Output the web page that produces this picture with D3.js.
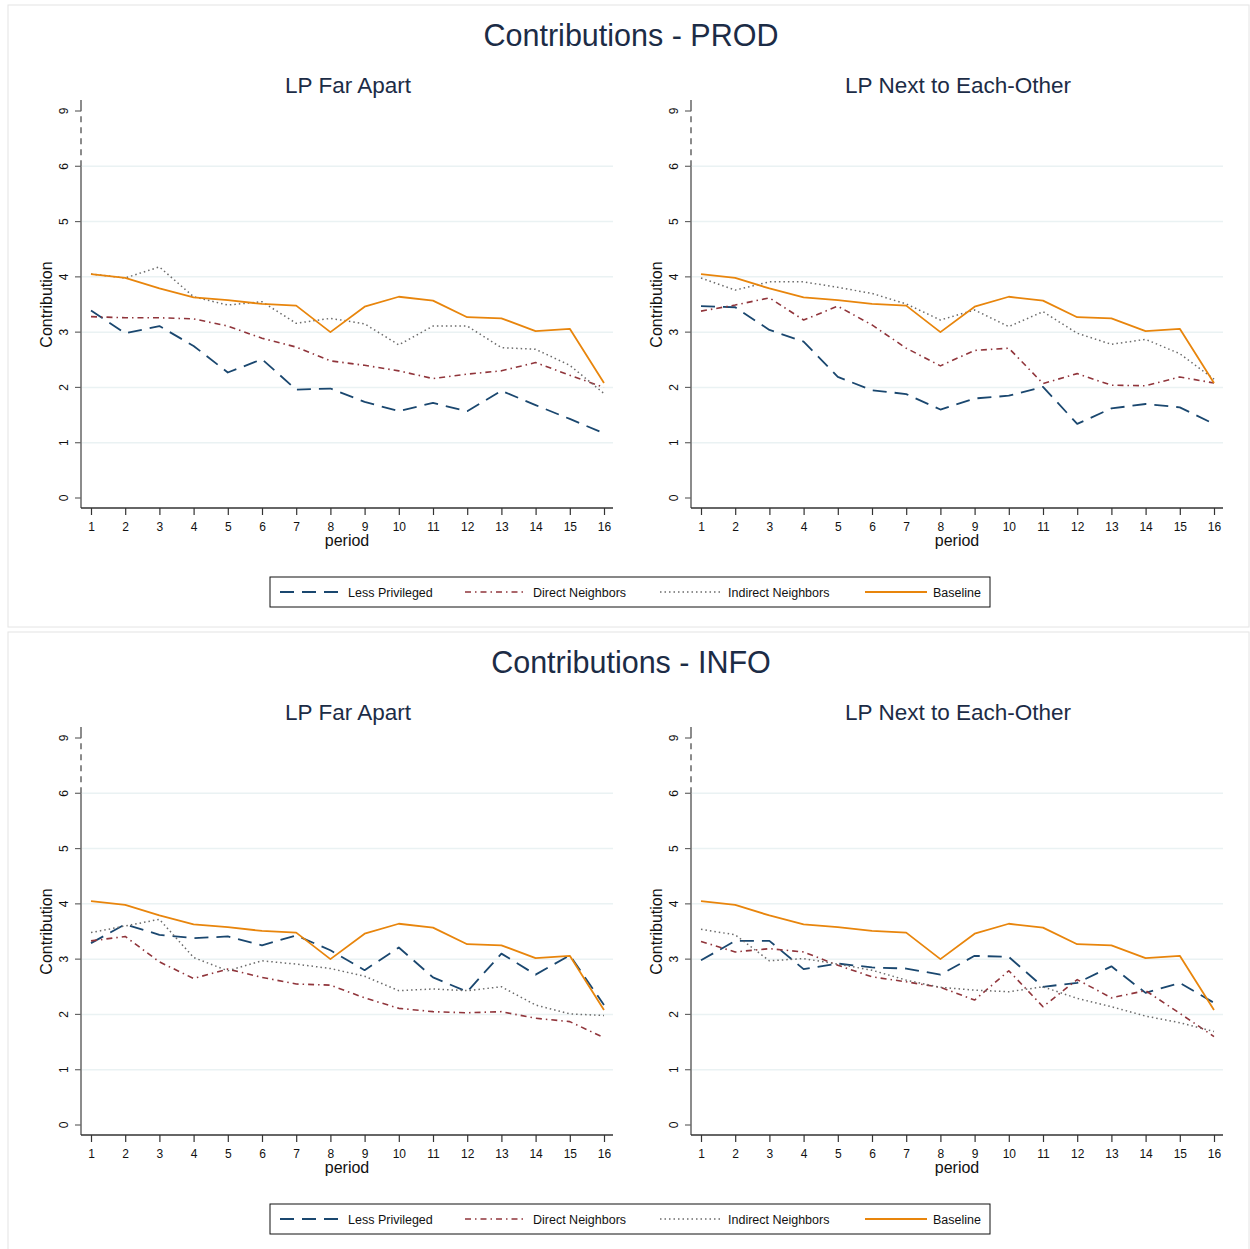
<!DOCTYPE html>
<html>
<head>
<meta charset="utf-8">
<script src="https://cdn.jsdelivr.net/npm/d3@7"></script>
<style>
  body { margin: 0; background: #fff; }
  svg { font-family: "Liberation Sans", Arial, sans-serif; }
</style>
</head>
<body>
<svg id="chart" width="1250" height="1249"></svg>
<script>
// periods on the x axis
const periods = [1, 2, 3, 4, 5, 6, 7, 8, 9, 10, 11, 12, 13, 14, 15, 16];

// y ticks (the last one is drawn after an axis break, labelled 9)
const yTickValues = [0, 1, 2, 3, 4, 5, 6, 7];
const yTickLabels = ["0", "1", "2", "3", "4", "5", "6", "9"];
const gridValues = [1, 2, 3, 4, 5, 6];

// Baseline is the same in every panel
const baseline = [4.05, 3.98, 3.79, 3.63, 3.58, 3.51, 3.48, 3.0, 3.46, 3.64, 3.57, 3.27, 3.25, 3.02, 3.06, 2.08];

// PROD - LP Far Apart
const prodFarLess     = [3.39, 2.98, 3.11, 2.75, 2.27, 2.51, 1.96, 1.98, 1.74, 1.57, 1.72, 1.57, 1.94, 1.68, 1.43, 1.17];
const prodFarDirect   = [3.28, 3.26, 3.26, 3.24, 3.11, 2.89, 2.73, 2.48, 2.40, 2.30, 2.16, 2.24, 2.30, 2.45, 2.22, 2.00];
const prodFarIndirect = [4.05, 3.98, 4.18, 3.64, 3.49, 3.55, 3.16, 3.25, 3.15, 2.77, 3.11, 3.11, 2.72, 2.69, 2.40, 1.89];

// PROD - LP Next to Each-Other
const prodNextLess     = [3.47, 3.45, 3.04, 2.83, 2.19, 1.95, 1.88, 1.60, 1.80, 1.85, 2.01, 1.34, 1.62, 1.70, 1.64, 1.34];
const prodNextDirect   = [3.38, 3.49, 3.62, 3.22, 3.47, 3.13, 2.71, 2.39, 2.67, 2.71, 2.07, 2.25, 2.04, 2.03, 2.19, 2.08];
const prodNextIndirect = [3.98, 3.76, 3.91, 3.91, 3.81, 3.70, 3.51, 3.22, 3.40, 3.10, 3.37, 2.98, 2.78, 2.87, 2.61, 2.15];

// INFO - LP Far Apart
const infoFarLess     = [3.29, 3.63, 3.44, 3.38, 3.41, 3.25, 3.43, 3.16, 2.80, 3.21, 2.67, 2.41, 3.10, 2.72, 3.07, 2.17];
const infoFarDirect   = [3.33, 3.41, 2.95, 2.65, 2.82, 2.67, 2.55, 2.53, 2.30, 2.11, 2.05, 2.03, 2.05, 1.93, 1.87, 1.58];
const infoFarIndirect = [3.48, 3.60, 3.72, 3.03, 2.79, 2.97, 2.91, 2.83, 2.69, 2.43, 2.46, 2.43, 2.50, 2.17, 2.01, 1.98];

// INFO - LP Next to Each-Other
const infoNextLess     = [2.98, 3.33, 3.33, 2.82, 2.92, 2.85, 2.83, 2.72, 3.06, 3.04, 2.50, 2.57, 2.87, 2.39, 2.57, 2.21];
const infoNextDirect   = [3.32, 3.13, 3.19, 3.13, 2.89, 2.68, 2.59, 2.49, 2.26, 2.79, 2.14, 2.63, 2.30, 2.43, 2.02, 1.60];
const infoNextIndirect = [3.54, 3.44, 2.97, 3.01, 2.91, 2.80, 2.62, 2.49, 2.44, 2.41, 2.50, 2.29, 2.14, 1.97, 1.85, 1.69];

const seriesNames = ["Less Privileged", "Direct Neighbors", "Indirect Neighbors", "Baseline"];

// line styles, same order as seriesNames
const styles = [
    { color: "#1a476f", dash: "14,8", width: 1.8 },
    { color: "#90353b", dash: "6,4,1.5,4", width: 1.6 },
    { color: "#6b6b6b", dash: "1.5,3", width: 1.5 },
    { color: "#e8850c", dash: null, width: 1.8 }
];

const svg = d3.select("#chart");
const navy = "#1c2c46";

const x = d3.scalePoint().domain(periods).range([91, 604]);
const y = d3.scaleLinear().domain([0, 7]).range([498, 111]);

function drawPlot(g, title, series) {
    g.append("text")
        .attr("x", 348).attr("y", 93)
        .attr("text-anchor", "middle")
        .attr("font-size", 22.5)
        .attr("fill", navy)
        .text(title);

    // gridlines
    g.selectAll(".grid").data(gridValues).enter().append("line")
        .attr("x1", 82).attr("x2", 613)
        .attr("y1", d => y(d)).attr("y2", d => y(d))
        .attr("stroke", "#eaf2f3").attr("stroke-width", 1.5);

    // y axis: solid to 6, dashed break to 9
    g.append("line").attr("x1", 81).attr("x2", 81)
        .attr("y1", 508).attr("y2", y(6))
        .attr("stroke", "#666").attr("stroke-width", 1.5);
    g.append("line").attr("x1", 81).attr("x2", 81)
        .attr("y1", y(6)).attr("y2", y(7))
        .attr("stroke", "#666").attr("stroke-width", 1.5)
        .attr("stroke-dasharray", "6,5");
    g.append("line").attr("x1", 81).attr("x2", 81)
        .attr("y1", y(7)).attr("y2", 100)
        .attr("stroke", "#666").attr("stroke-width", 1.5);

    g.selectAll(".ytick").data(yTickValues).enter().append("line")
        .attr("x1", 75).attr("x2", 81)
        .attr("y1", d => y(d)).attr("y2", d => y(d))
        .attr("stroke", "#666").attr("stroke-width", 1.2);

    g.selectAll(".ylab").data(yTickValues).enter().append("text")
        .attr("transform", d => `translate(68,${y(d)}) rotate(-90)`)
        .attr("text-anchor", "middle")
        .attr("font-size", 12)
        .attr("fill", "#111")
        .text((d, i) => yTickLabels[i]);

    g.append("text")
        .attr("transform", `translate(52,${(y(0) + y(7)) / 2}) rotate(-90)`)
        .attr("text-anchor", "middle")
        .attr("font-size", 16)
        .attr("fill", "#111")
        .text("Contribution");

    // x axis
    const xAxis = d3.axisBottom(x).tickSize(7).tickSizeOuter(0).tickPadding(7);
    const xg = g.append("g").attr("transform", "translate(0,508)").call(xAxis);
    xg.select(".domain").attr("d", "M81,0H613").attr("stroke", "#333").attr("stroke-width", 1.5);
    xg.selectAll(".tick line").attr("stroke", "#333").attr("stroke-width", 1.2);
    xg.selectAll(".tick text").attr("font-size", 12).attr("fill", "#111")
        .attr("font-family", "Liberation Sans, Arial, sans-serif");

    g.append("text")
        .attr("x", 347).attr("y", 546)
        .attr("text-anchor", "middle")
        .attr("font-size", 16)
        .attr("fill", "#111")
        .text("period");

    const line = d3.line().x((d, i) => x(periods[i])).y(d => y(d));

    // baseline is drawn last, on top
    series.forEach((vals, k) => {
        const s = styles[k];
        g.append("path")
            .attr("d", line(vals))
            .attr("fill", "none")
            .attr("stroke", s.color)
            .attr("stroke-width", s.width)
            .attr("stroke-dasharray", s.dash)
            .attr("stroke-linejoin", "round");
    });
}

function drawLegend(g) {
    g.append("rect")
        .attr("x", 270).attr("y", 577)
        .attr("width", 720).attr("height", 30)
        .attr("fill", "#fff").attr("stroke", "#111").attr("stroke-width", 1);
    const itemX = [280, 465, 660, 865];
    seriesNames.forEach((name, k) => {
        const s = styles[k];
        g.append("line")
            .attr("x1", itemX[k]).attr("x2", itemX[k] + 62)
            .attr("y1", 592).attr("y2", 592)
            .attr("stroke", s.color).attr("stroke-width", s.width)
            .attr("stroke-dasharray", s.dash);
        g.append("text")
            .attr("x", itemX[k] + 68)
            .attr("y", 596.5)
            .attr("font-size", 12.5)
            .attr("fill", "#111")
            .text(name);
    });
}

const panels = [
    { title: "Contributions - PROD", dy: 0,
      left: [prodFarLess, prodFarDirect, prodFarIndirect, baseline],
      right: [prodNextLess, prodNextDirect, prodNextIndirect, baseline] },
    { title: "Contributions - INFO", dy: 627,
      left: [infoFarLess, infoFarDirect, infoFarIndirect, baseline],
      right: [infoNextLess, infoNextDirect, infoNextIndirect, baseline] }
];

panels.forEach(p => {
    const pg = svg.append("g").attr("transform", `translate(0,${p.dy})`);
    pg.append("rect")
        .attr("x", 8).attr("y", 5).attr("width", 1241).attr("height", 622)
        .attr("fill", "#fff").attr("stroke", "#e4e4e4").attr("stroke-width", 1);
    pg.append("text")
        .attr("x", 631).attr("y", 46)
        .attr("text-anchor", "middle")
        .attr("font-size", 30.5)
        .attr("fill", navy)
        .text(p.title);

    drawPlot(pg.append("g"), "LP Far Apart", p.left);
    drawPlot(pg.append("g").attr("transform", "translate(610,0)"), "LP Next to Each-Other", p.right);
    drawLegend(pg);
});
</script>
</body>
</html>
